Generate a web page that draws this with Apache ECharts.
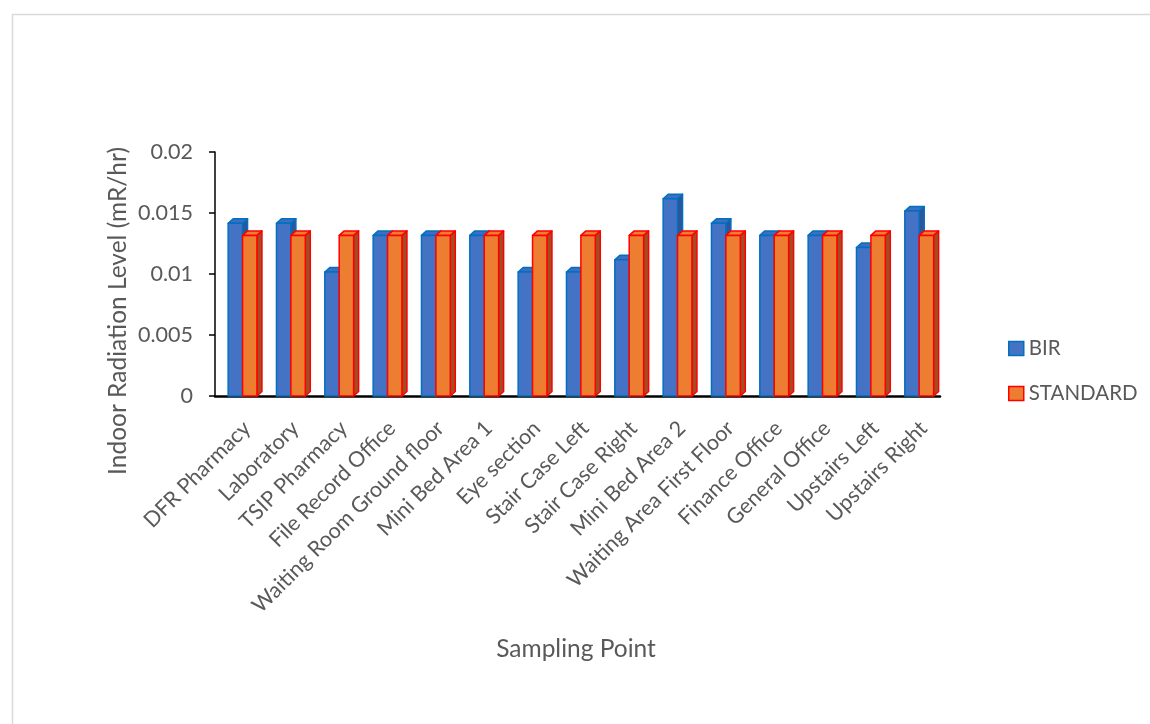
<!DOCTYPE html>
<html>
<head>
<meta charset="utf-8">
<script src="https://cdn.jsdelivr.net/npm/echarts@6/dist/echarts.min.js"></script>
<style>
html,body{margin:0;padding:0;background:#fff;}
#chart{width:1150px;height:724px;}
</style>
</head>
<body>
<div id="chart"></div>
<script>
const categories = ["DFR Pharmacy","Laboratory","TSIP Pharmacy","File Record Office","Waiting Room Ground floor","Mini Bed Area 1","Eye section","Stair Case Left","Stair Case Right","Mini Bed Area 2","Waiting Area First Floor","Finance Office","General Office","Upstairs Left","Upstairs Right"];
const birValues = [0.014,0.014,0.010,0.013,0.013,0.013,0.010,0.010,0.011,0.016,0.014,0.013,0.013,0.012,0.015];
const standardValues = [0.013,0.013,0.013,0.013,0.013,0.013,0.013,0.013,0.013,0.013,0.013,0.013,0.013,0.013,0.013];
const seriesNames = ["BIR","STANDARD"];
const yAxisTitle = "Indoor Radiation Level (mR/hr)";
const xAxisTitle = "Sampling Point";

const FONT = "Lato";
const styles = [
  {front:"#4472C4", border:"#0070C0", top:"#3F6DBF", side:"#2F5597"},
  {front:"#ED7D31", border:"#FF0000", top:"#ED7D31", side:"#9E5024"}
];

function makeRender(si){
  const st = styles[si];
  return function(params, api){
    const i = api.value(0), v = api.value(1);
    const base = api.coord([i, 0]);
    const topPt = api.coord([i, v]);
    const band = api.size([1, 0])[0];
    const w = band * 0.298;
    const x0 = base[0] - band * 0.228 + si * w;
    const yTop = topPt[1] - 2;
    const yBot = base[1];
    const dx = 5, dy = 4.5;
    const ls = {stroke: st.border, lineWidth: 1.5, lineJoin: 'round'};
    return {type:'group', children:[
      {type:'polygon', shape:{points:[[x0+w,yTop],[x0+w+dx,yTop-dy],[x0+w+dx,yBot-dy],[x0+w,yBot]]},
       style:Object.assign({fill:st.side}, ls)},
      {type:'polygon', shape:{points:[[x0,yTop],[x0+dx,yTop-dy],[x0+w+dx,yTop-dy],[x0+w,yTop]]},
       style:Object.assign({fill:st.top}, ls)},
      {type:'rect', shape:{x:x0, y:yTop, width:w, height:yBot-yTop},
       style:Object.assign({fill:st.front}, ls)}
    ]};
  };
}

const chart = echarts.init(document.getElementById('chart'), null, {renderer:'canvas'});
chart.setOption({
  backgroundColor:'#fff',
  animation:false,
  textStyle:{fontFamily:FONT},
  grid:{left:215, right:210, top:152, bottom:328, containLabel:false},
  legend:{
    orient:'vertical', left:1003, top:333, padding:5, itemWidth:15, itemHeight:14, itemGap:24,
    icon:'rect',
    textStyle:{fontFamily:FONT, fontSize:20.5, color:'#595959'},
    data:[
      {name:seriesNames[0], itemStyle:{color:styles[0].front, borderColor:styles[0].border, borderWidth:1.5}},
      {name:seriesNames[1], itemStyle:{color:styles[1].front, borderColor:styles[1].border, borderWidth:1.5}}
    ]
  },
  xAxis:{
    type:'category', data:categories,
    axisLine:{lineStyle:{color:'#000', width:2.5}},
    axisTick:{show:false},
    axisLabel:{rotate:45, interval:0, fontFamily:FONT, fontSize:21.5, color:'#595959', margin:21, verticalAlign:'top', align:'right'}
  },
  yAxis:{
    type:'value', min:0, max:0.02, interval:0.005,
    axisLine:{show:true, lineStyle:{color:'#000', width:1.5}},
    axisTick:{show:true, length:6, lineStyle:{color:'#000', width:1.5}},
    splitLine:{show:false},
    axisLabel:{fontFamily:FONT, fontSize:21.5, color:'#595959', margin:22}
  },
  graphic:[
    {type:'rect', left:10, top:12, shape:{x:0,y:0,width:1300,height:900}, style:{fill:'none', stroke:'#D9D9D9', lineWidth:1.5}, silent:true, z:-10},
    {type:'text', x:118, y:311, rotation:Math.PI/2, style:{text:yAxisTitle, fontFamily:FONT, fontSize:24.5, fill:'#595959', align:'center', verticalAlign:'middle'}},
    {type:'text', x:576, y:649, style:{text:xAxisTitle, fontFamily:FONT, fontSize:24.5, fill:'#595959', align:'center', verticalAlign:'middle'}}
  ],
  series:[
    {name:seriesNames[0], type:'custom', renderItem:makeRender(0),
     itemStyle:{color:styles[0].front, borderColor:styles[0].border},
     encode:{x:0, y:1},
     data:birValues.map((v,i)=>[i,v])},
    {name:seriesNames[1], type:'custom', renderItem:makeRender(1),
     itemStyle:{color:styles[1].front, borderColor:styles[1].border},
     encode:{x:0, y:1},
     data:standardValues.map((v,i)=>[i,v])}
  ]
});
</script>
</body>
</html>
